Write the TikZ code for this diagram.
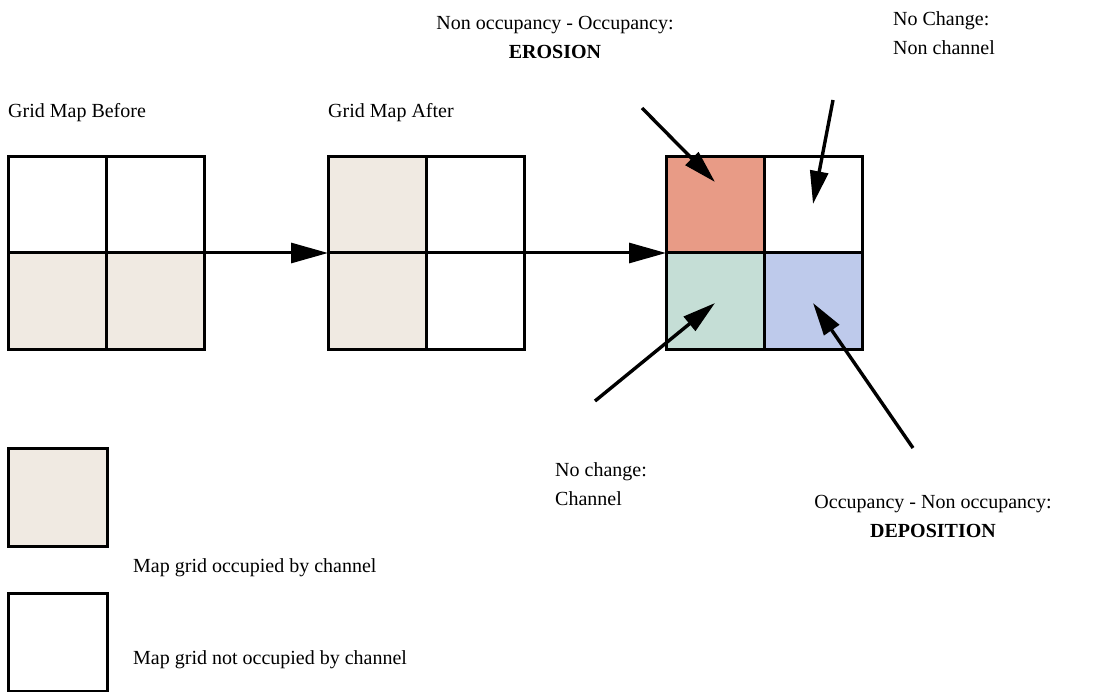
\documentclass[tikz,border=0pt]{standalone}
\usepackage{fontspec}
\setmainfont{Liberation Serif}
\usetikzlibrary{arrows.meta}
\definecolor{chanfill}{RGB}{240,234,226}
\definecolor{erofill}{RGB}{232,155,134}
\definecolor{keepfill}{RGB}{197,222,214}
\definecolor{depfill}{RGB}{190,202,235}
\begin{document}
\begin{tikzpicture}[x=1pt,y=-1pt,
  cell/.style={draw=black,line width=3pt,minimum width=98pt,minimum height=96pt,
    inner sep=0pt,outer sep=0pt,anchor=north west},
  gridframe/.style={minimum width=196pt,minimum height=192pt,inner sep=0pt,
    outer sep=0pt,anchor=north west},
  keybox/.style={draw=black,line width=3pt,minimum width=99pt,minimum height=98pt,
    inner sep=0pt,outer sep=0pt,anchor=north west},
  lbl/.style={inner sep=0pt,font=\fontsize{20}{29}\selectfont},
  flow/.style={line width=3pt,-{Triangle[length=37pt,width=20pt]}},
  ptr/.style={line width=3.4pt,-{Triangle[length=33pt,width=18pt]}}
]
\useasboundingbox (0,0) rectangle (1102,692);

% grid before
\node[cell] (b11) at (8,157) {};
\node[cell] (b12) at (106,157) {};
\node[cell,fill=chanfill] (b21) at (8,253) {};
\node[cell,fill=chanfill] (b22) at (106,253) {};
\node[gridframe] (gb) at (8,157) {};

% grid after
\node[cell,fill=chanfill] (a11) at (328,157) {};
\node[cell] (a12) at (426,157) {};
\node[cell,fill=chanfill] (a21) at (328,253) {};
\node[cell] (a22) at (426,253) {};
\node[gridframe] (ga) at (328,157) {};

% change grid
\node[cell,fill=erofill] (d11) at (666,157) {};
\node[cell] (d12) at (764,157) {};
\node[cell,fill=keepfill] (d21) at (666,253) {};
\node[cell,fill=depfill] (d22) at (764,253) {};
\node[gridframe] (gd) at (666,157) {};

% flow between grids
\draw[flow] (gb.east) -- (ga.west);
\draw[flow] (ga.east) -- (gd.west);

% titles
\node[lbl,anchor=west] (tb) at (8,113) {Grid Map Before};
\node[lbl,anchor=west] (ta) at (328,113) {Grid Map After};

% change labels
\node[lbl,align=center] (tero) at (555,37) {Non occupancy - Occupancy:\\\textbf{EROSION}};
\node[lbl,align=left,anchor=north west] (tnc) at (893,11) {No Change:\\Non channel};
\node[lbl,align=left,anchor=north west] (tch) at (555,462) {No change:\\Channel};
\node[lbl,align=center] (tdep) at (933,516) {Occupancy - Non occupancy:\\\textbf{DEPOSITION}};

% pointers
\coordinate (eroS) at (642,108);
\coordinate (eroT) at (715,182);
\coordinate (ncS) at (833,100);
\coordinate (ncT) at (813,204);
\coordinate (chS) at (595,401);
\coordinate (chT) at (715,303);
\coordinate (depS) at (913,448);
\coordinate (depT) at (813,303);
\draw[ptr] (eroS) -- (eroT);
\draw[ptr] (ncS) -- (ncT);
\draw[ptr] (chS) -- (chT);
\draw[ptr] (depS) -- (depT);

% legend
\node[keybox,fill=chanfill] (k1) at (8,448) {};
\node[lbl,anchor=west] (k1t) at (133,568) {Map grid occupied by channel};
\node[keybox] (k2) at (8,593) {};
\node[lbl,anchor=west] (k2t) at (133,660) {Map grid not occupied by channel};
\end{tikzpicture}
\end{document}
